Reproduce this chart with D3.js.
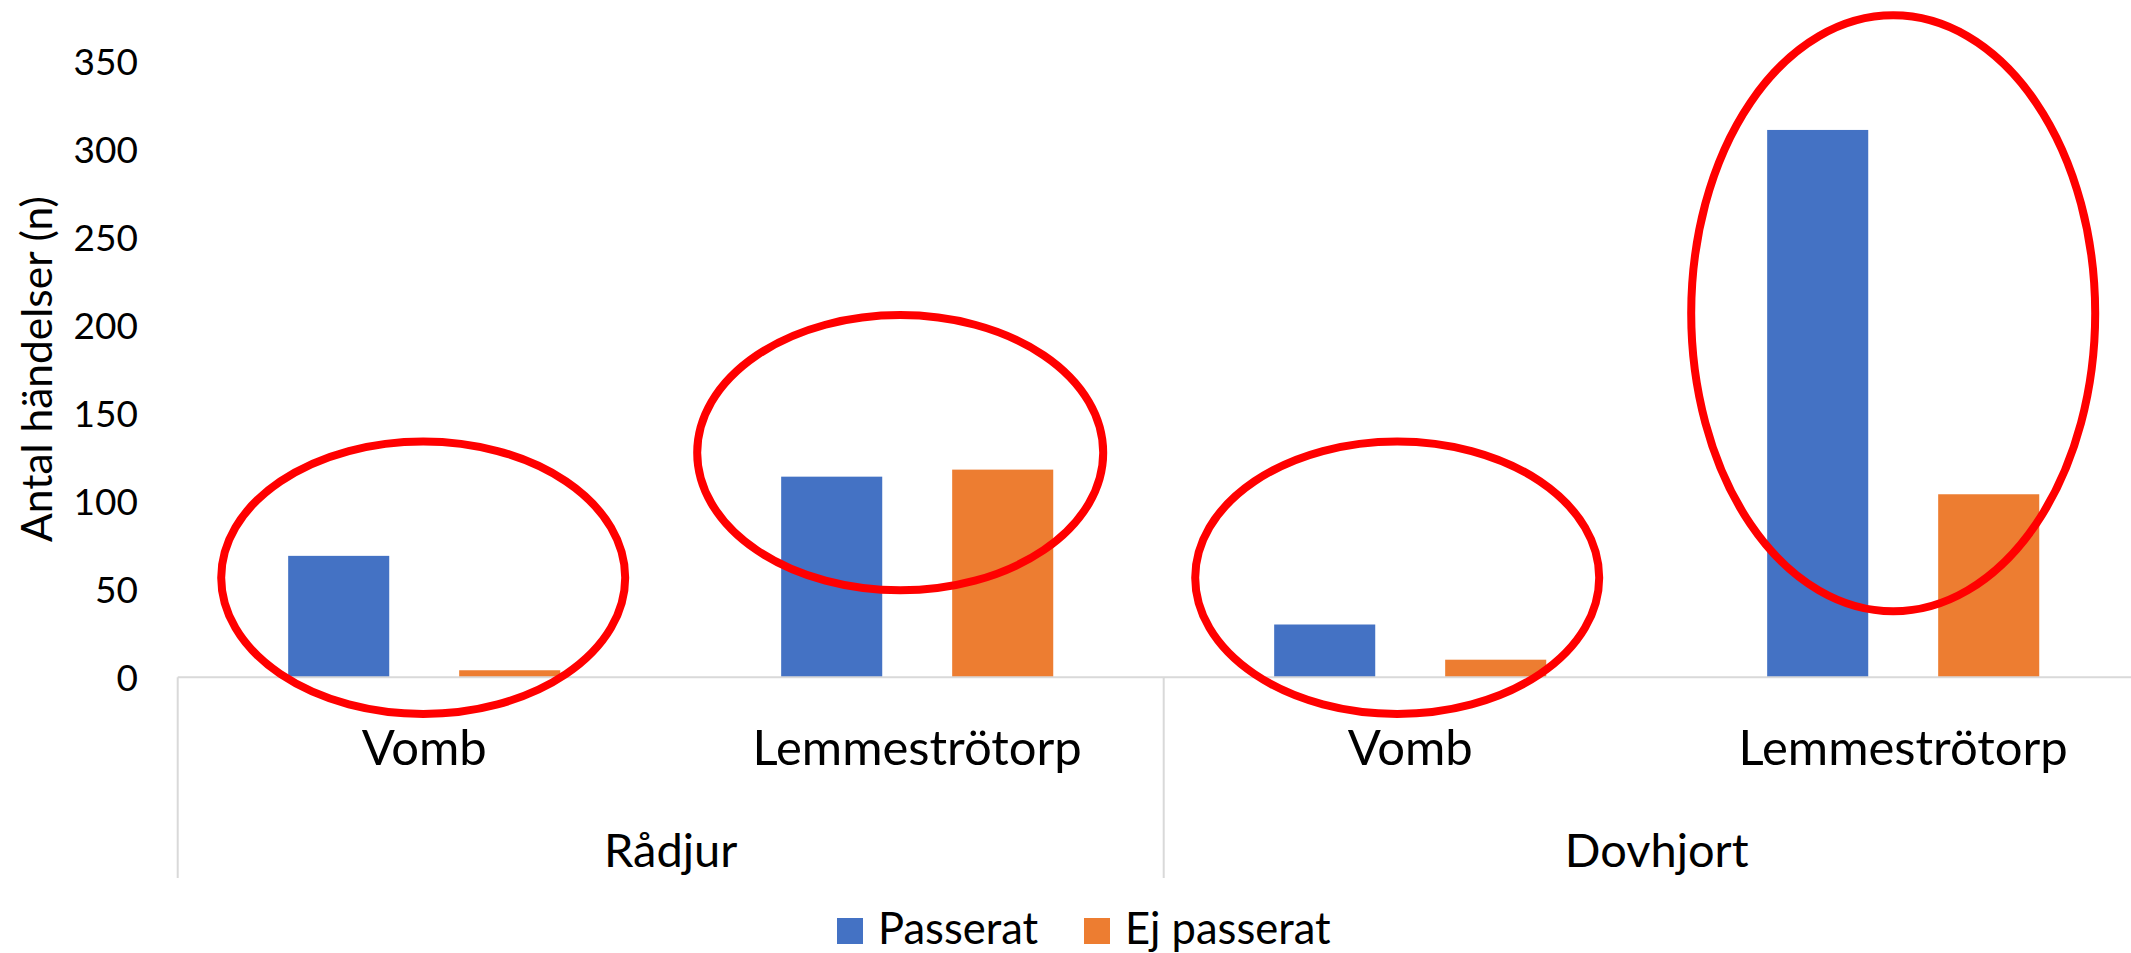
<!DOCTYPE html>
<html>
<head>
<meta charset="utf-8">
<script src="https://cdn.jsdelivr.net/npm/d3@7"></script>
<style>
  html, body { margin: 0; padding: 0; background: #fff; }
  svg { display: block; }
  text { font-family: Lato, "Open Sans", sans-serif; font-weight: 400; fill: #000; }
</style>
</head>
<body>
<svg id="chart" width="2131" height="953"></svg>
<script>
// ---- data ----
const groups = ["Rådjur", "Dovhjort"];
const sites = ["Vomb", "Lemmeströtorp", "Vomb", "Lemmeströtorp"];
const siteGroup = [0, 0, 1, 1];
const seriesNames = ["Passerat", "Ej passerat"];
const passerat = [69, 114, 30, 311];
const ejPasserat = [4, 118, 10, 104];
const yTicks = [0, 50, 100, 150, 200, 250, 300, 350];
const yTitle = "Antal händelser (n)";
// red highlight ellipses (in data terms: category index, value centre, value radius)
const annCat = [0, 1, 2, 3];
const annCy = [56.6, 127.6, 56.6, 206.8];
const annRy = [77.4, 78.2, 77.4, 169.3];

// ---- layout ----
const W = 2131, H = 953;
const plotLeft = 177.7, step = 493, plotRight = plotLeft + step * sites.length;
const baseY = 677.3, topY = 61.3;
const colors = ["#4472C4", "#ED7D31"];
const gridColor = "#D9D9D9";

const svg = d3.select("#chart");

const y = d3.scaleLinear().domain([0, 350]).range([baseY, topY]);
const x0 = d3.scaleBand().domain(d3.range(sites.length)).range([plotLeft, plotRight]).padding(0);
const x1 = d3.scaleBand().domain(seriesNames).range([0, x0.bandwidth()]).paddingInner(0.409).paddingOuter(0.646);

const values = [passerat, ejPasserat];

// bars
seriesNames.forEach((s, si) => {
  svg.append("g").selectAll("rect")
    .data(values[si])
    .join("rect")
    .attr("x", (d, i) => x0(i) + x1(s))
    .attr("width", x1.bandwidth())
    .attr("y", d => y(d))
    .attr("height", d => y(0) - y(d))
    .attr("fill", colors[si]);
});

// baseline + separators
svg.append("line")
  .attr("x1", plotLeft).attr("x2", plotRight)
  .attr("y1", y(0)).attr("y2", y(0))
  .attr("stroke", gridColor).attr("stroke-width", 2);

const sepBottom = 878;
const groupStarts = [0, 2, 4];
groupStarts.forEach(gi => {
  const xx = gi < sites.length ? x0(gi) : plotRight;
  svg.append("line")
    .attr("x1", xx).attr("x2", xx)
    .attr("y1", y(0)).attr("y2", sepBottom)
    .attr("stroke", gridColor).attr("stroke-width", 2);
});

// y axis tick labels
const yAxis = d3.axisLeft(y).tickValues(yTicks).tickSize(0).tickPadding(0);
const gy = svg.append("g").attr("transform", `translate(138,0)`).call(yAxis);
gy.select(".domain").remove();
gy.selectAll("text")
  .attr("font-family", "Lato, 'Open Sans', sans-serif")
  .attr("font-size", 37)
  .attr("fill", "#000")
  .attr("dy", "0.36em");

// y title
svg.append("text")
  .attr("transform", `translate(52,369) rotate(-90)`)
  .attr("text-anchor", "middle")
  .attr("font-size", 42.5)
  .text(yTitle);

// site labels
svg.append("g").selectAll("text")
  .data(sites)
  .join("text")
  .attr("x", (d, i) => x0(i) + x0.bandwidth() / 2)
  .attr("y", 765)
  .attr("text-anchor", "middle")
  .attr("font-size", 49)
  .text(d => d);

// group labels
svg.append("g").selectAll("text")
  .data(groups)
  .join("text")
  .attr("x", (d, gi) => {
    const idx = siteGroup.map((g, i) => g === gi ? i : -1).filter(i => i >= 0);
    return (x0(idx[0]) + x0(idx[idx.length - 1]) + x0.bandwidth()) / 2;
  })
  .attr("y", 867)
  .attr("text-anchor", "middle")
  .attr("font-size", 47)
  .text(d => d);

// highlight ellipses
const annDx = [-1, -17, -13, -10];
const annRx = [202, 203, 202, 202];
svg.append("g").selectAll("ellipse")
  .data(annCat)
  .join("ellipse")
  .attr("cx", (c, i) => x0(c) + x0.bandwidth() / 2 + annDx[i])
  .attr("cy", (c, i) => y(annCy[i]))
  .attr("rx", (c, i) => annRx[i])
  .attr("ry", (c, i) => y(0) - y(annRy[i]))
  .attr("fill", "none")
  .attr("stroke", "#FF0000")
  .attr("stroke-width", 8);

// legend
const legendX = [837, 1084];
const legend = svg.append("g").selectAll("g")
  .data(seriesNames)
  .join("g")
  .attr("transform", (d, i) => `translate(${legendX[i]},918)`);
legend.append("rect").attr("width", 26).attr("height", 26).attr("fill", (d, i) => colors[i]);
legend.append("text")
  .attr("x", 41).attr("y", 26)
  .attr("font-size", 43.5)
  .text(d => d);
</script>
</body>
</html>
